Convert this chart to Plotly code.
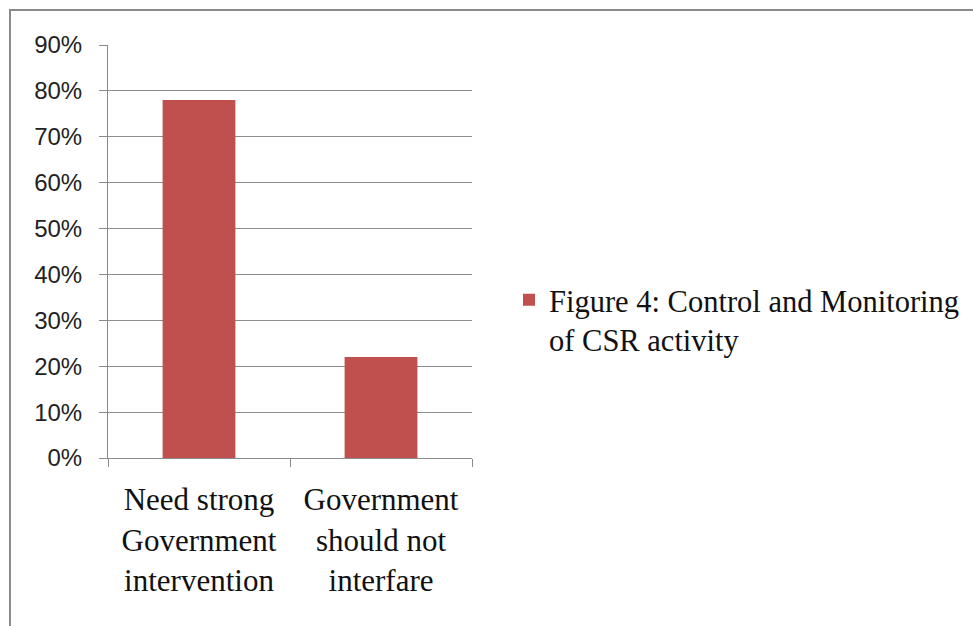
import plotly.graph_objects as go

categories = ["Need strong<br>Government<br>intervention", "Government<br>should not<br>interfare"]
values = [0.78, 0.22]
series_name = "Figure 4: Control and Monitoring<br>of CSR activity"

W, H = 973, 626
ml, mr, mt, mb = 108, 501, 45, 168
pw, ph = W - ml - mr, H - mt - mb

fig = go.Figure()
fig.add_trace(go.Bar(x=categories, y=values, name=series_name,
                     marker=dict(color="#C0504D", line=dict(width=0)),
                     showlegend=True))

def px_to_paper_x(px):
    return (px - ml) / pw

def px_to_paper_y(py):
    return (H - mb - py) / ph

fig.add_shape(type="rect", xref="paper", yref="paper",
              x0=px_to_paper_x(10), x1=px_to_paper_x(1100),
              y0=px_to_paper_y(800), y1=px_to_paper_y(10),
              line=dict(color="#8a8a8a", width=2), fillcolor="rgba(0,0,0,0)", layer="below")

fig.update_layout(
    width=W, height=H,
    margin=dict(l=ml, r=mr, t=mt, b=mb, autoexpand=False),
    paper_bgcolor="white", plot_bgcolor="white",
    bargap=0.6,
    showlegend=True,
    legend=dict(x=px_to_paper_x(509), y=px_to_paper_y(320), xanchor="left", yanchor="middle",
                valign="top", font=dict(family="Liberation Serif", size=30.5, color="#111"),
                itemwidth=30, tracegroupgap=0, bgcolor="rgba(0,0,0,0)"),
    xaxis=dict(showline=True, linecolor="#8a8a8a", linewidth=1, ticks="outside", ticklen=8,
               tickcolor="#8a8a8a", tickson="boundaries", showgrid=False,
               ticklabelstandoff=14,
               tickfont=dict(family="Liberation Serif", size=31, color="#111")),
    yaxis=dict(range=[0, 0.9], dtick=0.1, tickformat=".0%", showline=True, linecolor="#8a8a8a",
               linewidth=1, ticks="outside", ticklen=8, tickcolor="#8a8a8a",
               showgrid=True, gridcolor="#8c8c8c", gridwidth=1, zeroline=False,
               ticklabelstandoff=12,
               tickfont=dict(family="Liberation Sans", size=24, color="#222")),
)

fig.write_html("out.html")
